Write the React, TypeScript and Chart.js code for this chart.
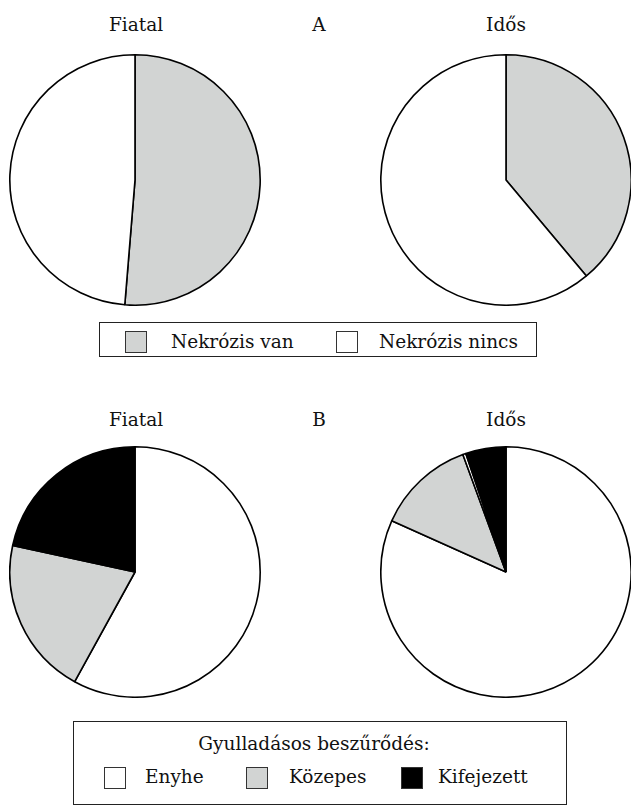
import React, { useEffect, useRef } from "react";
import { Chart, registerables } from "chart.js";

Chart.register(...registerables);

// ---- Data ----
const necrosisLabels = ["Nekrózis van", "Nekrózis nincs"];
const necrosisYoung = [51.3, 48.7];
const necrosisOld = [38.9, 61.1];

const inflammationLegend = ["Enyhe", "Közepes", "Kifejezett"];
const inflammationYoungLabels = ["Enyhe", "Közepes", "Kifejezett"];
const inflammationYoung = [58.0, 20.4, 21.6];
const inflammationOldLabels = ["Enyhe", "Közepes", "", "Kifejezett"];
const inflammationOld = [81.7, 12.7, 0.4, 5.2];

const groupLabels = ["Fiatal", "Idős"];
const panelLabels = ["A", "B"];
const legendBTitle = "Gyulladásos beszűrődés:";

// ---- Styles ----
const GRAY = "#d2d4d3";
const WHITE = "#ffffff";
const BLACK = "#000000";
const FONT = "'DejaVu Serif', serif";
const FS = 18.5;

const necrosisColors = [GRAY, WHITE];
const inflYoungColors = [WHITE, GRAY, BLACK];
const inflOldColors = [WHITE, GRAY, WHITE, BLACK];
const legendBColors = [WHITE, GRAY, BLACK];

function Pie({ cx, cy, labels, values, colors }: { cx: number; cy: number; labels: string[]; values: number[]; colors: string[] }) {
  const ref = useRef<HTMLCanvasElement | null>(null);
  const SIZE = 252;
  useEffect(() => {
    if (!ref.current) return;
    const chart = new Chart(ref.current, {
      type: "pie",
      data: {
        labels,
        datasets: [
          {
            data: values,
            backgroundColor: colors,
            borderColor: BLACK,
            borderWidth: 1.6,
          },
        ],
      },
      options: {
        responsive: false,
        animation: false,
        layout: { padding: 0 },
        plugins: { legend: { display: false }, tooltip: { enabled: false }, title: { display: false } },
      },
    });
    return () => chart.destroy();
  }, []);
  return (
    <canvas
      ref={ref}
      width={SIZE}
      height={SIZE}
      style={{ position: "absolute", left: cx - SIZE / 2, top: cy - SIZE / 2, width: SIZE, height: SIZE }}
    />
  );
}

// text placed by baseline
function Txt({ x, y, children, center }: { x: number; y: number; children: React.ReactNode; center?: boolean }) {
  return (
    <div
      style={{
        position: "absolute",
        left: x,
        top: y - 0.846 * FS,
        fontFamily: FONT,
        fontSize: FS,
        lineHeight: FS + "px",
        whiteSpace: "nowrap",
        transform: center ? "translateX(-50%)" : undefined,
        color: "#111",
      }}
    >
      {children}
    </div>
  );
}

function Swatch({ x, y, color }: { x: number; y: number; color: string }) {
  return (
    <div
      style={{
        position: "absolute",
        left: x,
        top: y,
        width: 22,
        height: 22,
        boxSizing: "border-box",
        background: color,
        border: "1.5px solid #333",
      }}
    />
  );
}

export default function App() {
  return (
    <div style={{ position: "absolute", left: 0, top: 0, width: 631, height: 805, overflow: "hidden", background: "#fff" }}>
      {/* Panel A */}
      <Txt x={136} y={32} center>{groupLabels[0]}</Txt>
      <Txt x={319} y={32} center>{panelLabels[0]}</Txt>
      <Txt x={506} y={32} center>{groupLabels[1]}</Txt>
      <Pie cx={135} cy={180} labels={necrosisLabels} values={necrosisYoung} colors={necrosisColors} />
      <Pie cx={506} cy={180} labels={necrosisLabels} values={necrosisOld} colors={necrosisColors} />
      <div style={{ position: "absolute", left: 99, top: 322, width: 438, height: 35, boxSizing: "border-box", border: "1.5px solid #222" }} />
      <Swatch x={125} y={331} color={necrosisColors[0]} />
      <Txt x={171} y={349}>{necrosisLabels[0]}</Txt>
      <Swatch x={336} y={331} color={necrosisColors[1]} />
      <Txt x={379} y={349}>{necrosisLabels[1]}</Txt>

      {/* Panel B */}
      <Txt x={136} y={427} center>{groupLabels[0]}</Txt>
      <Txt x={319} y={427} center>{panelLabels[1]}</Txt>
      <Txt x={506} y={427} center>{groupLabels[1]}</Txt>
      <Pie cx={135} cy={572} labels={inflammationYoungLabels} values={inflammationYoung} colors={inflYoungColors} />
      <Pie cx={506} cy={572} labels={inflammationOldLabels} values={inflammationOld} colors={inflOldColors} />
      <div style={{ position: "absolute", left: 73, top: 721, width: 494, height: 84, boxSizing: "border-box", border: "1.5px solid #222" }} />
      <Txt x={314} y={751} center>{legendBTitle}</Txt>
      <Swatch x={104} y={767} color={legendBColors[0]} />
      <Txt x={145} y={784}>{inflammationLegend[0]}</Txt>
      <Swatch x={246} y={767} color={legendBColors[1]} />
      <Txt x={289} y={784}>{inflammationLegend[1]}</Txt>
      <Swatch x={401} y={767} color={legendBColors[2]} />
      <Txt x={438} y={784}>{inflammationLegend[2]}</Txt>
    </div>
  );
}
